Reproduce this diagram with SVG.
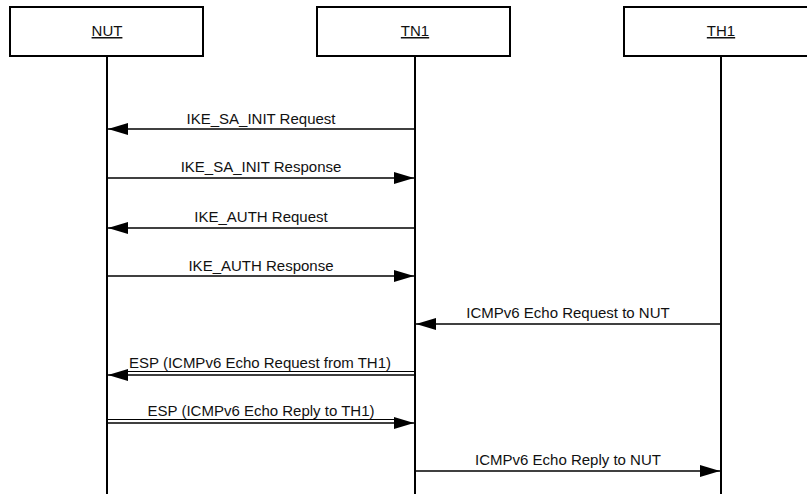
<svg xmlns="http://www.w3.org/2000/svg" width="807" height="494" viewBox="0 0 807 494">
<defs>
<marker id="ah" markerUnits="userSpaceOnUse" markerWidth="20" markerHeight="12" refX="20" refY="6" orient="auto">
<path d="M0,0 L20,6 L0,12 z" fill="#000"/>
</marker>
<style>
.box{fill:#fff;stroke:#000;stroke-width:2}
.life{stroke:#000;stroke-width:2}
.name{font-family:"Liberation Sans",Arial,sans-serif;font-size:15px;fill:#111;text-anchor:middle;text-decoration:underline}
.msg{stroke:#000;stroke-width:1.6;fill:none;marker-end:url(#ah)}
.ul{stroke:#000;stroke-width:1;fill:none}
.lbl{font-family:"Liberation Sans",Arial,sans-serif;font-size:15px;fill:#111;text-anchor:middle}
</style>
</defs>
<rect width="807" height="494" fill="#fff"/>
<g id="NUT">
<rect class="box" x="10" y="7" width="193" height="49"/>
<text class="name" x="107" y="36">NUT</text>
<line class="life" x1="107" y1="56" x2="107" y2="494"/>
</g>
<g id="TN1">
<rect class="box" x="317" y="7" width="193" height="49"/>
<text class="name" x="415" y="36">TN1</text>
<line class="life" x1="415" y1="56" x2="415" y2="494"/>
</g>
<g id="TH1">
<rect class="box" x="624" y="7" width="193" height="49"/>
<text class="name" x="721" y="36">TH1</text>
<line class="life" x1="721" y1="56" x2="721" y2="494"/>
</g>
<g id="connectors">
<line class="msg" x1="415" y1="129" x2="108" y2="129"/>
<text class="lbl" x="261" y="124">IKE_SA_INIT Request</text>
<line class="msg" x1="107" y1="178" x2="414" y2="178"/>
<text class="lbl" x="261" y="172">IKE_SA_INIT Response</text>
<line class="msg" x1="415" y1="228" x2="108" y2="228"/>
<text class="lbl" x="261" y="222">IKE_AUTH Request</text>
<line class="msg" x1="107" y1="276" x2="414" y2="276"/>
<text class="lbl" x="261" y="271">IKE_AUTH Response</text>
<line class="msg" x1="721" y1="324" x2="416" y2="324"/>
<text class="lbl" x="568" y="318">ICMPv6 Echo Request to NUT</text>
<line class="ul" x1="127" y1="371.5" x2="415" y2="371.5"/>
<line class="msg" x1="415" y1="375" x2="108" y2="375"/>
<text class="lbl" x="260" y="368">ESP (ICMPv6 Echo Request from TH1)</text>
<line class="ul" x1="107" y1="419.5" x2="395" y2="419.5"/>
<line class="msg" x1="107" y1="423" x2="414" y2="423"/>
<text class="lbl" x="261" y="416">ESP (ICMPv6 Echo Reply to TH1)</text>
<line class="msg" x1="415" y1="471" x2="720" y2="471"/>
<text class="lbl" x="568" y="465">ICMPv6 Echo Reply to NUT</text>
</g>
</svg>
